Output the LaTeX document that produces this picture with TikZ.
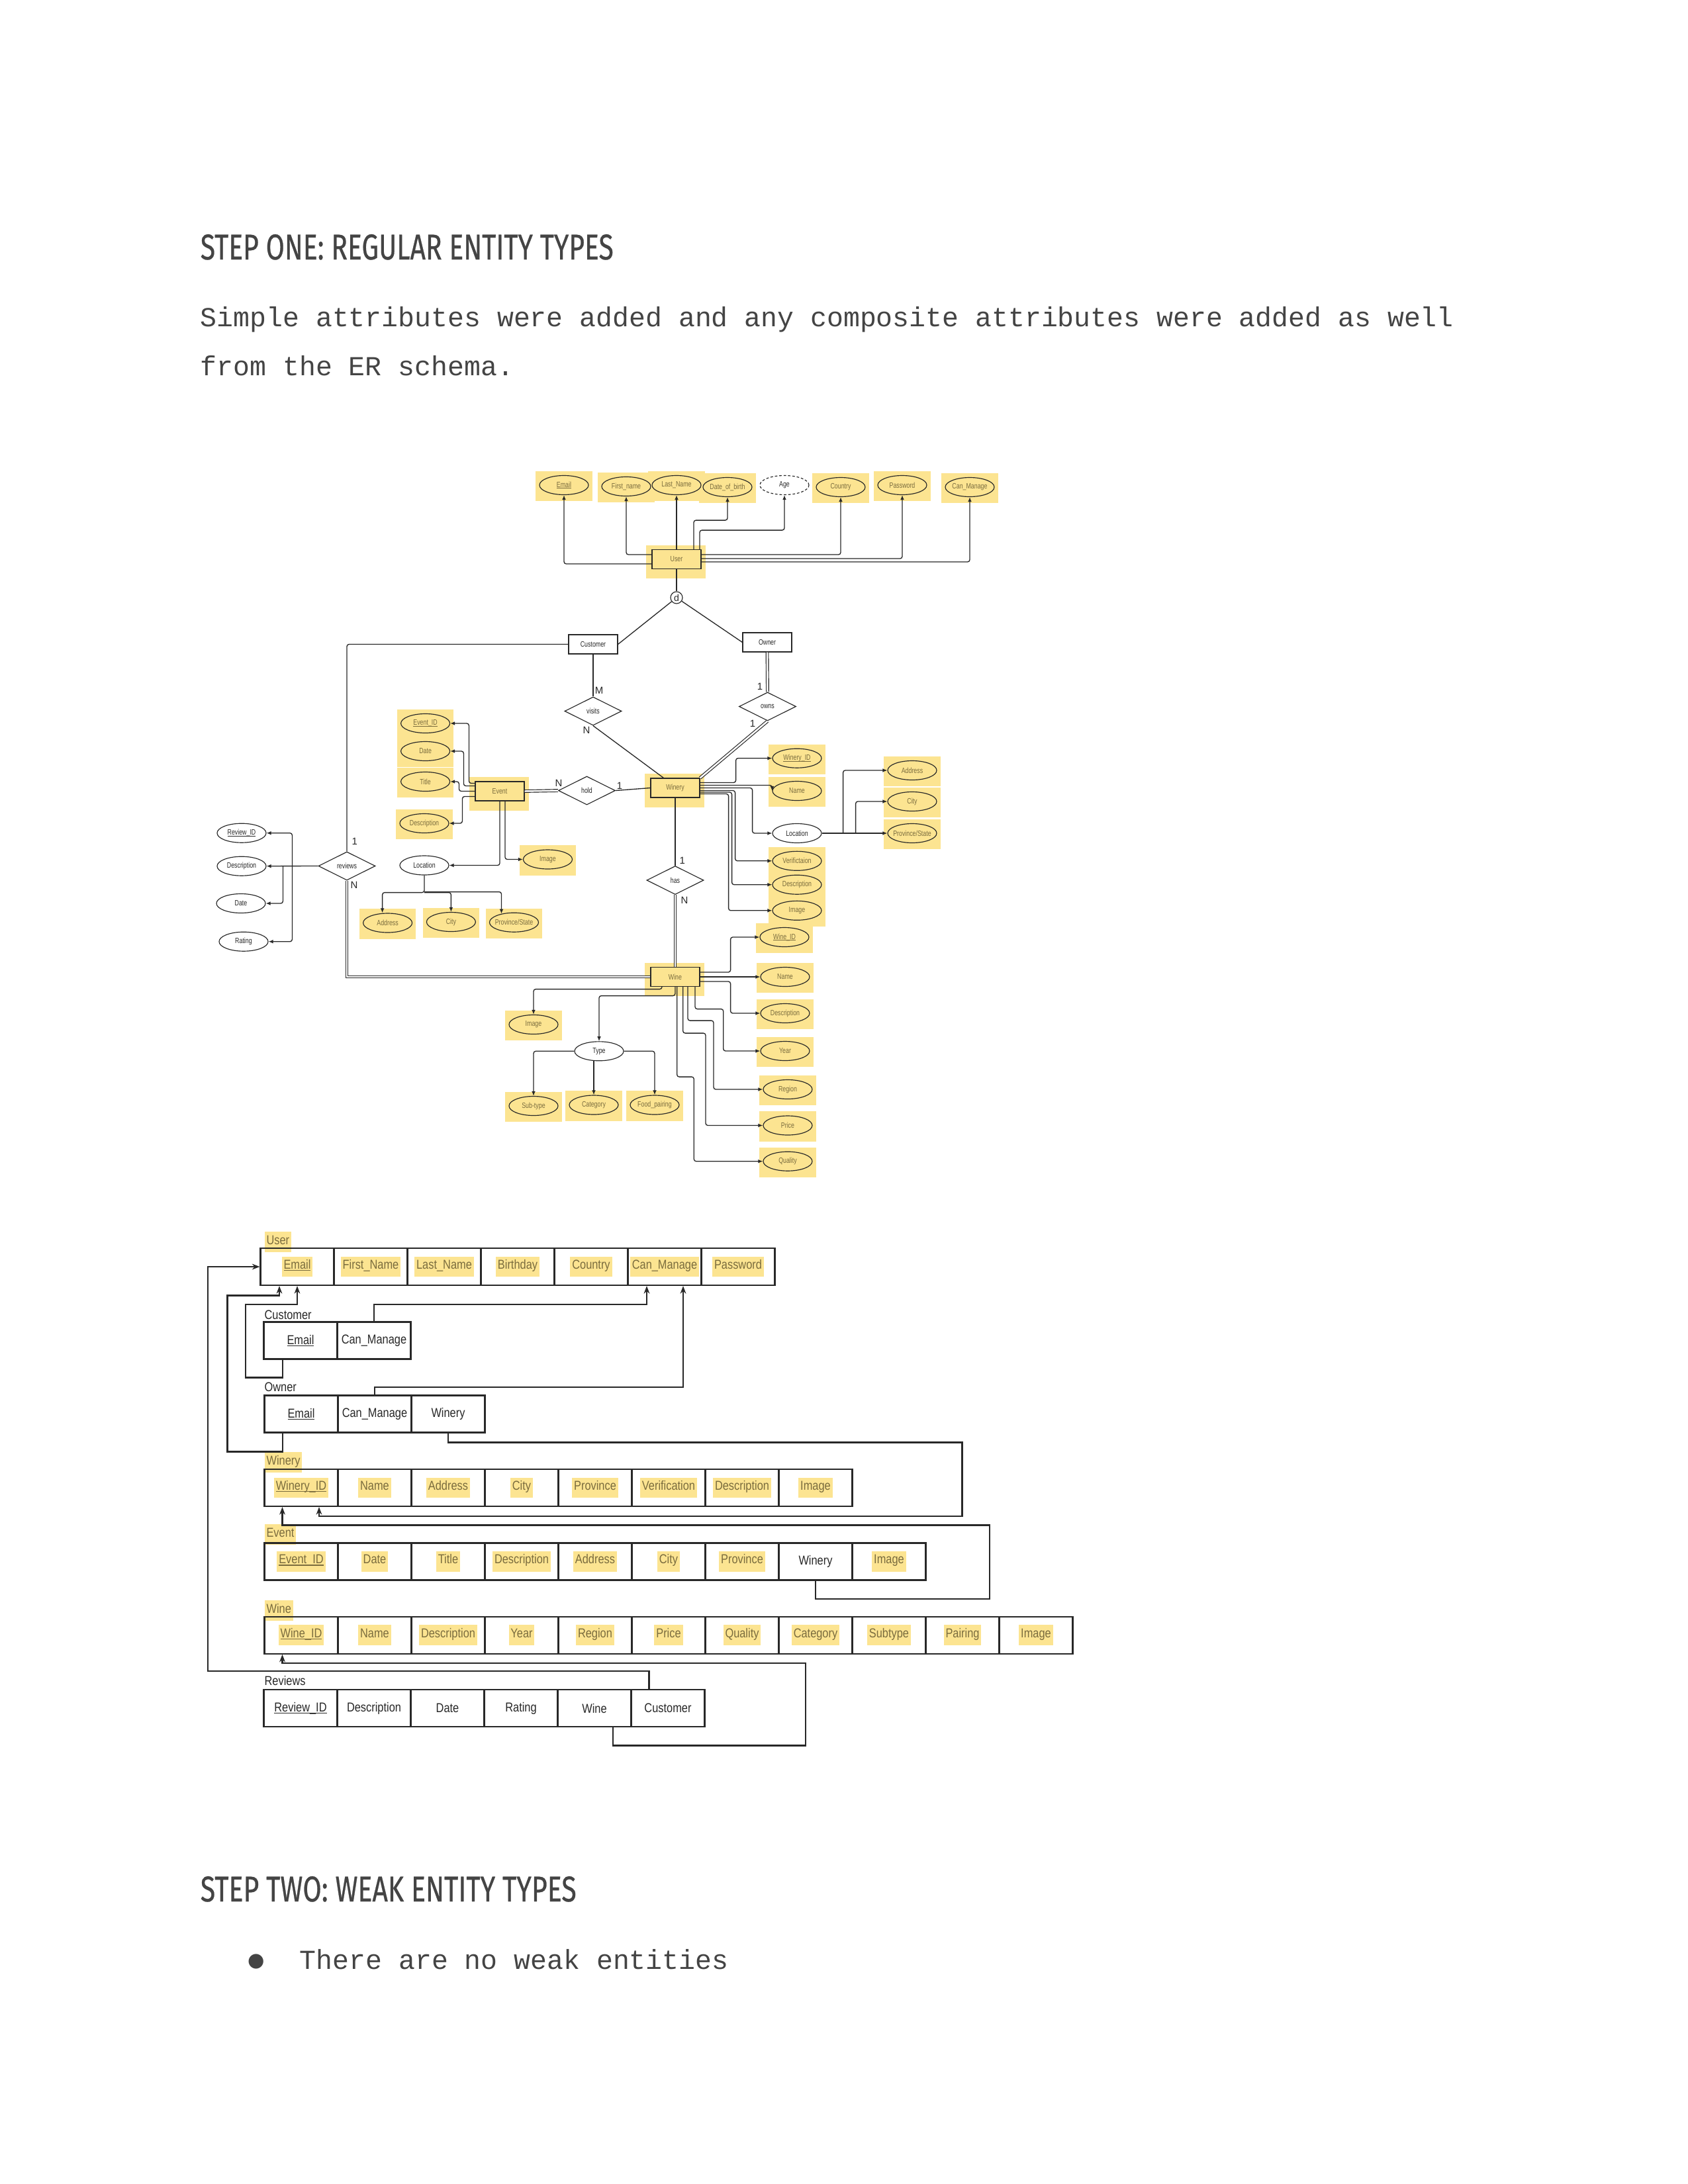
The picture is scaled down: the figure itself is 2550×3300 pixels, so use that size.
\documentclass[tikz,border=0pt]{standalone}
\usepackage{graphicx}
\usepackage{fontspec}
\setmainfont{Liberation Sans}
\newfontfamily\erfont[FakeStretch=0.76]{Liberation Sans}
\newfontfamily\relfont[FakeStretch=0.84]{Liberation Sans}
\newfontfamily\headfont[FakeBold=0.6]{Fira Sans}
\newfontfamily\monofont{Liberation Mono}
\newfontfamily\symfont{DejaVu Sans}
\usetikzlibrary{shapes.geometric,arrows.meta,calc,backgrounds}
\definecolor{hlc}{RGB}{252,228,145}
\definecolor{hlt}{RGB}{122,108,62}
\definecolor{ink}{RGB}{40,40,40}
\definecolor{txt}{RGB}{68,68,68}
\def\PX{0.2409pt}
\newcommand\myul[1]{\leavevmode\setbox0=\hbox{#1}\rlap{\rule[-0.28ex]{\wd0}{0.13ex}}\box0}
\newcommand\hlb[1]{{\setlength{\fboxsep}{0.7pt}\colorbox{hlc}{\rule[-2.2pt]{0pt}{6pt}\color{hlt}#1}}}
\newcommand\reltab[4]{\foreach \ctext [count=\i] in {#4} {\node[cell] (#1-\i) at ({#2+(\i-0.5)*111},{#3+28}) {\ctext};}}
\begin{document}
\begin{tikzpicture}[x=0.2409pt,y=-0.2409pt,
  erfs/.style={font=\erfont\fontsize{2.8pt}{3pt}\selectfont},
  erattr/.style={ellipse, draw=ink, line width=0.28pt, minimum width=74*\PX, minimum height=29*\PX, inner xsep=-1.5pt, inner ysep=0pt, erfs, text=ink},
  hattr/.style={erattr, text=hlt},
  erent/.style={rectangle, draw=ink, line width=0.28pt, minimum width=74*\PX, minimum height=29*\PX, inner sep=0pt, erfs, text=ink},
  hent/.style={erent, text=hlt},
  errel/.style={diamond, draw=ink, line width=0.28pt, minimum width=86*\PX, minimum height=43*\PX, inner sep=0pt, aspect=2, erfs, text=ink},
  card/.style={inner sep=0pt, font=\fontsize{3.6pt}{4pt}\selectfont, text=ink},
  erl/.style={draw=ink, line width=0.32pt, rounded corners=0.8pt},
  era/.style={erl, -{Latex[length=1.7pt,width=1.4pt]}},
  erd/.style={draw=ink, line width=0.28pt, double=white, double distance=0.6pt},
  cell/.style={rectangle, draw=ink, line width=0.5pt, minimum width=111*\PX, minimum height=56*\PX, inner sep=0pt, font=\relfont\fontsize{4.7pt}{5pt}\selectfont, text=ink},
  rlabel/.style={anchor=base west, inner sep=0pt, font=\relfont\fontsize{4.7pt}{5pt}\selectfont, text=ink},
  rl/.style={draw=ink, line width=0.55pt},
  ra/.style={rl, -{Stealth[length=2.8pt,width=2.1pt]}},
  body/.style={anchor=base west, inner sep=0pt, text=txt, font=\monofont\fontsize{10pt}{12pt}\selectfont}
]
\useasboundingbox (0,0) rectangle (2550,3300);

% ---------- text ----------
\node[anchor=base west, inner sep=0pt, text=txt] (h1) at (302,392) {\resizebox{150.3pt}{9.15pt}{\headfont STEP ONE: REGULAR ENTITY TYPES}};
\node[body] (p1) at (302,493) {Simple attributes were added and any composite attributes were added as well};
\node[body] (p2) at (302,567) {from the ER schema.};
\node[anchor=base west, inner sep=0pt, text=txt] (h2) at (302,2873) {\resizebox{136.8pt}{9.15pt}{\headfont STEP TWO: WEAK ENTITY TYPES}};
\node[inner sep=0pt, text=txt, font=\symfont\fontsize{7pt}{7pt}\selectfont] (bul) at (387,2964) {●};
\node[body] (p3) at (452,2975) {There are no weak entities};

% ---------- ER diagram ----------
\node[hent] (user) at (1022,845) {User};
\node[hattr] (email) at (852,733) {\myul{Email}};
\node[hattr] (fname) at (946,735) {First\_name};
\node[hattr] (lname) at (1022,733) {Last\_Name};
\node[hattr] (dob) at (1099,736) {Date\_of\_birth};
\node[erattr, dash pattern=on 0.9pt off 0.7pt] (age) at (1185,733) {Age};
\node[hattr] (country) at (1270,736) {Country};
\node[hattr] (pwd) at (1363,733) {Password};
\node[hattr] (canman) at (1465,736) {Can\_Manage};

\draw[era] ($(user.west)+(0,7)$) -| (email.south);
\draw[era] ($(user.west)+(0,-7)$) -| (fname.south);
\draw[era] (user.north) -- (lname.south);
\draw[era] ($(user.north)+(26,0)$) |- ($(dob.south)+(0,35)$) -- (dob.south);
\draw[era] ($(user.north)+(35,0)$) |- ($(age.south)+(0,53)$) -- (age.south);
\draw[era] ($(user.east)+(0,-7)$) -| (country.south);
\draw[era] ($(user.east)+(0,-1)$) -| (pwd.south);
\draw[era] ($(user.east)+(0,4)$) -| (canman.south);

\node[circle, draw=ink, line width=0.28pt, minimum size=18*\PX, inner sep=0pt, font=\fontsize{3.4pt}{4pt}\selectfont, text=ink] (dcirc) at (1022,903) {d};
\draw[erl] (user.south) -- (dcirc.north);
\node[erent] (customer) at (896,973.5) {Customer};
\node[erent] (owner) at (1159,970.5) {Owner};
\draw[erl] (dcirc) -- (customer.east);
\draw[erl] (dcirc) -- (owner.west);

\node[errel] (visits) at (896,1074.5) {visits};
\node[errel] (owns) at (1159.5,1067.5) {owns};
\node[hent] (winery) at (1020,1190.5) {Winery};
\node[hent] (event) at (755,1195.5) {Event};
\node[errel] (hold) at (886.5,1194.5) {hold};
\node[errel] (has) at (1020,1330) {has};
\node[hent] (wine) at (1020,1476) {Wine};
\node[errel] (reviews) at (524,1308.5) {reviews};

\draw[erl] (customer.south) -- (visits.north);
\draw[erl] (visits.south) -- ($(winery.north west)+(20,0)$);
\draw[erd] (owner.south) -- (owns.north);
\draw[erd] (owns.south) -- (winery.north east);
\draw[erd] (event.east) -- (hold.west);
\draw[erl] (hold.east) -- (winery.west);
\draw[erl] (winery.south) -- (has.north);
\draw[erd] (has.south) -- (wine.north);
\draw[erl] (customer.west) -| (reviews.north);
\draw[erd] (reviews.south) |- (wine.west);

\node[card] (lm) at (905,1043.5) {M};
\node[card] (ln1) at (886,1103) {N};
\node[card] (lo1) at (1148,1037) {1};
\node[card] (lo2) at (1137,1093) {1};
\node[card] (lh1) at (844,1183.5) {N};
\node[card] (lh2) at (936,1187.5) {1};
\node[card] (lhas1) at (1030.7,1300) {1};
\node[card] (lhas2) at (1034,1360) {N};
\node[card] (lr1) at (535.7,1271.7) {1};
\node[card] (lr2) at (535,1337) {N};

% Event attributes
\node[hattr] (eid) at (642.6,1093) {\myul{Event\_ID}};
\node[hattr] (edate) at (642.6,1135) {Date};
\node[hattr] (etitle) at (642.6,1181) {Title};
\node[hattr] (edesc) at (641,1244) {Description};
\node[erattr] (eloc) at (641,1307.5) {Location};
\node[hattr] (eimg) at (827.5,1298.5) {Image};
\node[hattr] (eaddr) at (585.6,1394.5) {Address};
\node[hattr] (ecity) at (681.4,1393) {City};
\node[hattr] (eprov) at (776.5,1393.7) {Province/State};

\draw[era] ($(event.west)+(0,-12)$) -- ++(-9,0) |- (eid.east);
\draw[era] ($(event.west)+(0,-8)$) -- ++(-17,0) |- (edate.east);
\draw[era] (event.west) -- ++(-24,0) |- (etitle.east);
\draw[era] ($(event.west)+(0,8)$) -- ++(-19,0) |- (edesc.east);
\draw[era] (event.south) |- (eloc.east);
\draw[era] ($(event.south)+(8,0)$) |- (eimg.west);
\draw[era] (eloc.south) -- ++(0,26) -| ($(eaddr.north)+(-8,0)$);
\draw[era] ($(eloc.south)+(0,26)$) -| (ecity.north);
\draw[era] ($(eloc.south)+(0,25)$) -| ($(eprov.north)+(-19,2)$);

% Reviews attributes
\node[erattr] (rid) at (365,1258.7) {\myul{Review\_ID}};
\node[erattr] (rdesc) at (365,1308.7) {Description};
\node[erattr] (rdate) at (364,1365) {Date};
\node[erattr] (rrat) at (368,1422.7) {Rating};
\draw[era] (reviews.west) -- (rdesc.east);
\draw[era] ($(reviews.west)+(-39,0)$) |- (rid.east);
\draw[era] ($(reviews.west)+(-53,0)$) |- (rdate.east);
\draw[era] ($(reviews.west)+(-39,0)$) |- (rrat.east);

% Winery attributes
\node[hattr] (wid) at (1204,1145.7) {\myul{Winery\_ID}};
\node[hattr] (wname) at (1204,1195) {Name};
\node[erattr] (wloc) at (1204,1259) {Location};
\node[hattr] (wver) at (1204,1300.8) {Verifictaion};
\node[hattr] (wdesc) at (1204,1336.7) {Description};
\node[hattr] (wimg) at (1204,1375.8) {Image};
\node[hattr] (waddr) at (1378,1164) {Address};
\node[hattr] (wcity) at (1378,1211) {City};
\node[hattr] (wprov) at (1378,1259) {Province/State};

\draw[era] ($(winery.east)+(0,-8)$) -- ++(54,0) |- (wid.west);
\draw[era] ($(winery.east)+(0,-4)$) -| (wname.west);
\draw[era] (winery.east) -- ++(79,0) |- (wloc.west);
\draw[era] ($(winery.east)+(0,4)$) -- ++(53,0) |- (wver.west);
\draw[era] ($(winery.east)+(0,6.5)$) -- ++(48,0) |- (wdesc.west);
\draw[era] ($(winery.east)+(0,9)$) -- ++(43,0) |- (wimg.west);
\draw[era] (wloc.east) -- (wprov.west);
\draw[era] ($(wloc.east)+(32,0)$) |- (waddr.west);
\draw[era] ($(wloc.east)+(51,0)$) |- (wcity.west);

% Wine attributes
\node[hattr] (wineid) at (1185,1416) {\myul{Wine\_ID}};
\node[hattr] (winename) at (1186,1476) {Name};
\node[hattr] (winedesc) at (1186,1531) {Description};
\node[hattr] (wyear) at (1186,1588) {Year};
\node[hattr] (wregion) at (1190,1646) {Region};
\node[hattr] (wprice) at (1190,1700.5) {Price};
\node[hattr] (wquality) at (1190,1754.7) {Quality};
\node[hattr] (wineimg) at (806,1548) {Image};
\node[erattr] (wtype) at (905,1588.3) {Type};
\node[hattr] (wsub) at (806,1671) {Sub-type};
\node[hattr] (wcat) at (897,1669.5) {Category};
\node[hattr] (wfood) at (989,1669.5) {Food\_pairing};

\draw[era] ($(wine.east)+(0,-7)$) -- ++(46,0) |- (wineid.west);
\draw[era] (wine.east) -- (winename.west);
\draw[era] ($(wine.east)+(0,7)$) -- ++(46,0) |- (winedesc.west);
\draw[era] ($(wine.south)+(30,0)$) -- ++(0,33.5) -- ++(42.7,0) |- (wyear.west);
\draw[era] ($(wine.south)+(19,0)$) -- ++(0,51) -- ++(39,0) |- (wregion.west);
\draw[era] ($(wine.south)+(11.7,0)$) -- ++(0,70) -- ++(34.3,0) |- (wprice.west);
\draw[era] ($(wine.south)+(2.7,0)$) -- ++(0,136) -- ++(25.6,0) |- (wquality.west);
\draw[era] ($(wine.south)+(-20,0)$) -- ++(0,3.5) -| (wineimg.north);
\draw[era] (wine.south) -- ++(0,13.5) -| (wtype.north);
\draw[era] (wtype.west) -| (wsub.north);
\draw[era] (wtype.south -| wcat.north) -- (wcat.north);
\draw[era] (wtype.east) -| (wfood.north);

% ---------- relational schema ----------
\node[rlabel] (luser) at (398.8,1880) {\hlb{User}};
\reltab{user}{393.5}{1886}{\hlb{\myul{Email}},\hlb{First\_Name},\hlb{Last\_Name},\hlb{Birthday},\hlb{Country},\hlb{Can\_Manage},\hlb{Password}}
\node[rlabel] (lcust) at (398.8,1993) {Customer};
\reltab{customer}{398.5}{1997.5}{\myul{Email},Can\_Manage}
\node[rlabel] (lowner) at (398.8,2102) {Owner};
\reltab{owner}{399.5}{2108.5}{\myul{Email},Can\_Manage,Winery}
\node[rlabel] (lwinery) at (398.8,2213) {\hlb{Winery}};
\reltab{winery}{399.5}{2220}{\hlb{\myul{Winery\_ID}},\hlb{Name},\hlb{Address},\hlb{City},\hlb{Province},\hlb{Verification},\hlb{Description},\hlb{Image}}
\node[rlabel] (levent) at (398.8,2322) {\hlb{Event}};
\reltab{event}{399.5}{2331.5}{\hlb{\myul{Event\_ID}},\hlb{Date},\hlb{Title},\hlb{Description},\hlb{Address},\hlb{City},\hlb{Province},Winery,\hlb{Image}}
\node[rlabel] (lwine) at (398.8,2437) {\hlb{Wine}};
\reltab{wine}{399.5}{2442.7}{\hlb{\myul{Wine\_ID}},\hlb{Name},\hlb{Description},\hlb{Year},\hlb{Region},\hlb{Price},\hlb{Quality},\hlb{Category},\hlb{Subtype},\hlb{Pairing},\hlb{Image}}
\node[rlabel] (lrev) at (398.8,2546) {Reviews};
\reltab{reviews}{398.5}{2553}{\myul{Review\_ID},Description,Date,Rating,Wine,Customer}

\draw[ra] ($(reviews-6.north west)+(28,0)$) -- ++(0,-27) -- ++(-666.5,0) |- (user-1.west);
\draw[ra] ($(customer-1.south)+(-27,0)$) -- ++(0,27) -- ++(-56,0) |- ($(user-1.south)+(0,28)$) -- (user-1.south);
\draw[ra] ($(owner-1.south)+(-28,0)$) -- ++(0,28) -- ++(-83.5,0) |- ($(user-1.south)+(-27,14.5)$) -- ($(user-1.south)+(-27,0)$);
\draw[ra] (customer-2.north) |- ($(user-6.south)+(-27,28)$) -- ($(user-6.south)+(-27,0)$);
\draw[ra] (owner-2.north) |- ($(user-6.south)+(28,153)$) -- ($(user-6.south)+(28,0)$);
\draw[ra] (owner-3.south) -- ++(0,14) -- ++(776.5,0) -- ++(0,111.5) -| ($(winery-1.south)+(27,0)$);
\draw[ra] (event-8.south) -- ++(0,27.5) -- ++(263,0) |- ($(winery-1.south)+(-28.5,27.3)$) -- ($(winery-1.south)+(-28.5,0)$);
\draw[ra] ($(reviews-5.south)+(28,0)$) -- ++(0,27.5) -- ++(291,0) |- ($(wine-1.south)+(-28.5,13)$) -- ($(wine-1.south)+(-28.5,0)$);

% ---------- background & highlights ----------
\begin{pgfonlayer}{background}
\fill[white] (0,0) rectangle (2550,3300);
\foreach \n in {email,fname,lname,dob,country,pwd,canman,eid,edate,etitle,edesc,eimg,eaddr,ecity,eprov,wid,wname,wver,wdesc,wimg,waddr,wcity,wprov,wineid,winename,winedesc,wyear,wregion,wprice,wquality,wineimg,wsub,wcat,wfood}
  {\fill[hlc] ($(\n.west|-\n.north)+(-5,-6)$) rectangle ($(\n.east|-\n.south)+(5,9)$);}
\foreach \n in {user,event,winery,wine}
  {\fill[hlc] ($(\n.north west)+(-8,-6)$) rectangle ($(\n.south east)+(6,14)$);}
\end{pgfonlayer}
\end{tikzpicture}
\end{document}
